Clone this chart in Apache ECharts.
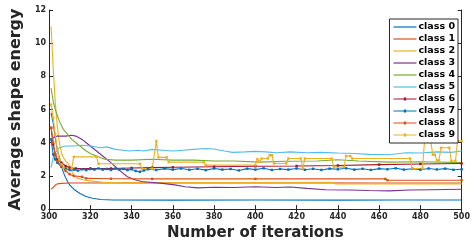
<!DOCTYPE html>
<html>
<head>
<meta charset="utf-8">
<script src="https://cdn.jsdelivr.net/npm/echarts@6/dist/echarts.min.js"></script>
<style>html,body{margin:0;padding:0;background:#fff;}#c{width:473px;height:246px;}</style>
</head>
<body>
<div id="c"></div>
<script>
const classNames = ['class 0','class 1','class 2','class 3','class 4','class 5','class 6','class 7','class 8','class 9'];
const xTicks = [300, 500, 20];
const yTicks = [0, 12, 2];

const class0 = [[301,5.8],[302,5.2],[303,4.3],[304,3.6],[305,3.1],[306,2.6],[307,2.2],[308,1.9],[309,1.65],[310,1.46],[312,1.2],[315,0.94],[318,0.76],[321,0.65],[325,0.58],[331,0.55],[360,0.54],[400,0.55],[440,0.54],[470,0.55],[500,0.55]];
const class1 = [[301,1.2],[302,1.3],[303,1.45],[304,1.52],[306,1.55],[310,1.57],[340,1.58],[380,1.57],[420,1.58],[460,1.57],[500,1.57]];
const class2 = [[301,11],[302,8.5],[303,6.5],[304,5.0],[305,4.0],[306,3.4],[307,3.1],[308,2.9],[309,2.8],[310,2.6],[311,2.3],[312,2.0],[314,1.85],[317,1.75],[320,1.7],[326,1.62],[335,1.58],[350,1.58],[360,1.6],[400,1.6],[437,1.62],[439,1.52],[500,1.52]];
const class3 = [[301,4.0],[302,4.3],[304,4.4],[308,4.4],[311,4.45],[313,4.4],[316,4.2],[318,4.0],[320,3.8],[323,3.5],[326,3.2],[330,2.8],[334,2.35],[338,1.95],[342,1.75],[345,1.66],[349,1.62],[355,1.55],[361,1.46],[366,1.35],[372,1.28],[380,1.32],[390,1.3],[400,1.35],[410,1.3],[417,1.33],[425,1.25],[434,1.17],[445,1.15],[455,1.12],[465,1.1],[475,1.15],[485,1.17],[500,1.2]];
const class4 = [[301,7.3],[302,6.5],[303,6.0],[305,5.3],[307,4.8],[309,4.5],[311,4.2],[313,4.0],[316,3.7],[318,3.5],[320,3.35],[323,3.2],[327,3.0],[332,2.95],[340,2.95],[350,3.0],[360,2.95],[370,2.95],[380,2.9],[390,2.9],[402,2.83],[415,2.88],[430,2.9],[440,2.97],[450,2.9],[465,2.83],[480,2.85],[500,2.8]];
const class5 = [[301,2.5],[302,3.1],[303,3.4],[305,3.7],[308,3.8],[312,3.8],[316,3.85],[320,3.8],[325,3.7],[328,3.75],[332,3.6],[336,3.55],[339,3.5],[343,3.55],[346,3.5],[350,3.6],[355,3.55],[360,3.5],[365,3.55],[370,3.6],[376,3.65],[380,3.62],[385,3.5],[389,3.42],[395,3.45],[400,3.48],[405,3.45],[410,3.4],[417,3.45],[425,3.4],[432,3.42],[440,3.38],[448,3.35],[455,3.3],[465,3.28],[473,3.4],[480,3.38],[488,3.45],[495,3.42],[500,3.5]];
const class6 = [[301,4.9],[302,3.9],[303,3.3],[304,3.0],[306,2.8],[308,2.6],[310,2.5],[313,2.45],[320,2.45],[330,2.45],[340,2.48],[350,2.5],[360,2.52],[380,2.55],[400,2.58],[420,2.6],[440,2.63],[460,2.68],[480,2.72],[500,2.75]];
const class7 = [[301,4.2],[302,3.3],[303,3.0],[304,2.8],[306,2.55],[308,2.45],[310,2.35],[312,2.38],[314,2.32],[316,2.4],[318,2.35],[320,2.42],[322,2.38],[324,2.45],[326,2.38],[328,2.42],[330,2.36],[332,2.44],[334,2.38],[336,2.42],[338,2.35],[340,2.4],[342,2.3],[344,2.25],[346,2.33],[348,2.4],[352,2.36],[356,2.44],[360,2.38],[364,2.45],[368,2.37],[372,2.43],[376,2.35],[380,2.45],[384,2.38],[388,2.42],[392,2.33],[396,2.44],[400,2.38],[404,2.46],[408,2.36],[412,2.42],[416,2.38],[420,2.45],[424,2.37],[428,2.43],[432,2.36],[436,2.44],[440,2.4],[444,2.46],[448,2.38],[452,2.43],[456,2.36],[460,2.44],[464,2.4],[468,2.46],[472,2.38],[476,2.43],[480,2.37],[484,2.45],[488,2.39],[492,2.44],[496,2.37],[500,2.4]];
const class8 = [[301,4.9],[302,4.0],[303,3.3],[304,2.9],[306,2.6],[308,2.3],[310,2.1],[312,2.0],[316,1.95],[318,1.85],[330,1.83],[350,1.82],[400,1.82],[463,1.82],[464,1.74],[500,1.74]];
const class9 = [[301,6.3],[302,5.5],[303,4.5],[304,3.6],[305,3.0],[306,2.7],[307,2.5],[311,2.45],[312,3.15],[323,3.15],[324,2.73],[344,2.73],[345,2.44],[350,2.44],[352,4.1],[353,3.12],[357,3.12],[358,2.83],[375,2.83],[376,2.65],[400,2.65],[401,3.02],[402,2.85],[403,3.05],[406,3.05],[407,3.25],[408,3.25],[409,2.75],[415,2.75],[416,3.05],[422,3.05],[423,2.45],[424,3.05],[437,3.05],[438,2.53],[443,2.53],[444,3.2],[446,3.2],[447,3.05],[475,3.05],[476,2.45],[481,2.45],[482,4.1],[485,4.1],[486,3.28],[487,3.28],[488,2.93],[489,2.93],[490,3.7],[494,3.7],[495,2.9],[497,2.9],[498,4.1],[500,4.1]];

const allData = [class0,class1,class2,class3,class4,class5,class6,class7,class8,class9];
const colors = ['#0072BD','#D95319','#EDB120','#7E2F8E','#77AC30','#4DBEEE','#A2142F','#0072BD','#D95319','#EDB120'];

const LINE_ICON = 'path://M0,0 M23,10 M0,4.4 L23,4.4 L23,5.6 L0,5.6 Z';
const LINE_DOT_ICON = 'path://M0,0 M23,10 M0,4.4 L23,4.4 L23,5.6 L0,5.6 Z M10.3,3.5 L12.7,3.5 L12.7,6.5 L10.3,6.5 Z';
const DOT_MARK = 'path://M0,0 M10,10 M3.8,3.8 L6.2,3.8 L6.2,6.2 L3.8,6.2 Z';

const chart = echarts.init(document.getElementById('c'), null, {renderer:'canvas'});
const FONT = 'DejaVu Sans';
const axisCol = '#262626';
const labelStyle = {fontFamily: FONT, fontSize: 8, fontWeight: 'bold', color: axisCol};

const series = allData.map((d, i) => ({
  name: classNames[i],
  type: 'line',
  data: d,
  color: colors[i],
  lineStyle: {width: 1.1, color: colors[i]},
  itemStyle: {color: colors[i]},
  symbol: i >= 6 ? DOT_MARK : 'none',
  symbolSize: 10,
  showSymbol: i >= 6,
  animation: false,
  z: 2
}));

chart.setOption({
  backgroundColor: '#fff',
  animation: false,
  color: colors,
  grid: {left: 42, right: 9, top: 10, bottom: 31, containLabel: false},
  legend: {
    orient: 'vertical',
    right: 15, top: 19,
    backgroundColor: '#fff',
    borderColor: axisCol, borderWidth: 1,
    padding: [3, 3, 3, 4],
    itemGap: 2, itemWidth: 23, itemHeight: 10,
    textStyle: {fontFamily: FONT, fontSize: 9.5, fontWeight: 'bold', color: '#000', padding: [0,0,0,-3]},
    data: classNames.map((n, i) => ({name: n, icon: i >= 6 ? LINE_DOT_ICON : LINE_ICON})),
    z: 10
  },
  xAxis: [{
    type: 'value', min: xTicks[0], max: xTicks[1], interval: xTicks[2],
    name: 'Number of iterations', nameLocation: 'middle', nameGap: 15,
    nameTextStyle: {fontFamily: FONT, fontSize: 15, fontWeight: 'bold', color: axisCol, verticalAlign: 'top'},
    axisLine: {show: true, lineStyle: {color: axisCol, width: 1}},
    axisTick: {show: true, inside: true, length: 4, lineStyle: {color: axisCol}},
    axisLabel: Object.assign({margin: 4}, labelStyle),
    splitLine: {show: false}
  }, {
    type: 'value', position: 'top', min: xTicks[0], max: xTicks[1], interval: xTicks[2],
    axisLine: {show: true, lineStyle: {color: axisCol, width: 1}},
    axisTick: {show: true, inside: true, length: 4, lineStyle: {color: axisCol}},
    axisLabel: {show: false}, splitLine: {show: false}
  }],
  yAxis: [{
    type: 'value', min: yTicks[0], max: yTicks[1], interval: yTicks[2],
    name: 'Average shape energy', nameLocation: 'middle', nameGap: 20,
    nameTextStyle: {fontFamily: FONT, fontSize: 16, fontWeight: 'bold', color: axisCol},
    axisLine: {show: true, lineStyle: {color: axisCol, width: 1}},
    axisTick: {show: true, inside: true, length: 4, lineStyle: {color: axisCol}},
    axisLabel: Object.assign({margin: 3}, labelStyle),
    splitLine: {show: false}
  }, {
    type: 'value', position: 'right', min: yTicks[0], max: yTicks[1], interval: yTicks[2],
    axisLine: {show: true, lineStyle: {color: axisCol, width: 1}},
    axisTick: {show: true, inside: true, length: 4, lineStyle: {color: axisCol}},
    axisLabel: {show: false}, splitLine: {show: false}
  }],
  series: series
});
</script>
</body>
</html>
